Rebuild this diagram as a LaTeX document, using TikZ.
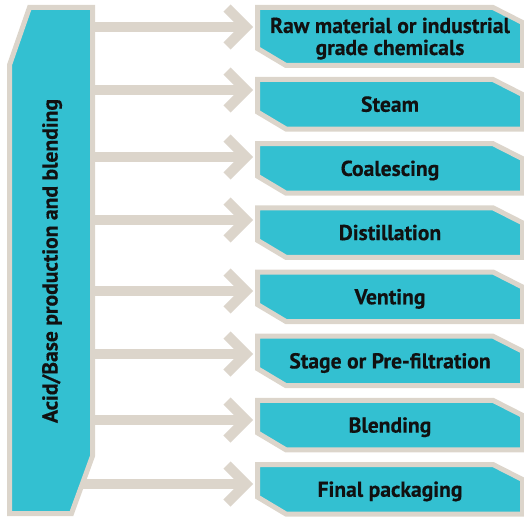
\documentclass[tikz,border=0pt]{standalone}
\usepackage{fontspec}
\setmainfont{PT Sans}[BoldFeatures={FakeBold=0.4}]
\usetikzlibrary{calc}
\definecolor{cyanfill}{RGB}{51,192,209}
\definecolor{beige}{RGB}{220,213,203}
\definecolor{ink}{RGB}{17,17,17}
\begin{document}
\begin{tikzpicture}[x=1pt,y=-1pt,
  boxshape/.style={fill=cyanfill,draw=beige,line width=5pt,line join=miter},
  shaft/.style={draw=beige,line width=10pt},
  chev/.style={draw=beige,line width=10pt,line join=miter,miter limit=4},
  lbl/.style={text=ink,font=\bfseries\fontsize{21.6}{22}\selectfont,align=center,inner sep=0pt}]
\useasboundingbox (0,0) rectangle (524,516);
% arrows
\foreach \i/\sx/\y in {1/92.5/27,2/92.5/90,3/92.5/157,4/92.5/220,5/92.5/291,6/92.5/354,7/92.5/420,8/82.3/484}{
  \coordinate (s\i) at (\sx,\y);
  \coordinate (t\i) at (246,\y);
  \draw[shaft] (s\i) -- (t\i);
  \draw[chev] ($(t\i)+(-19,-19)$) -- (t\i) -- ($(t\i)+(-19,19)$);
}
% left box
\draw[boxshape] (29.5,7.5) -- (92.5,7.5) -- (92.5,456) -- (71.5,513.5) -- (9.5,513.5) -- (9.5,65) -- cycle;
\node[lbl,rotate=90,anchor=base] (src) at (57.5,261) {Acid/Base production and blending};
% right boxes
\foreach \i/\t/\b in {1/7.5/65.5,2/79.5/129,3/143.67/193.17,4/207.84/257.34,5/272.01/321.51,6/336.18/385.68,7/400.35/449.85,8/464.52/514.02}{
  \draw[boxshape] (257.5,\t) -- (493,\t) -- (522.5,\t+15) -- (522.5,\b) -- (286,\b) -- (257.5,\b-17) -- cycle;
  \coordinate (c\i) at (390,{(\t+\b)/2+7.5});
}
\node[lbl,anchor=base] (n1a) at (390,33) {Raw material or industrial};
\node[lbl,anchor=base] (n1b) at (390,55) {grade chemicals};
\node[lbl,anchor=base] (n2) at (c2) {Steam};
\node[lbl,anchor=base] (n3) at (c3) {Coalescing};
\node[lbl,anchor=base] (n4) at (c4) {Distillation};
\node[lbl,anchor=base] (n5) at (c5) {Venting};
\node[lbl,anchor=base] (n6) at (c6) {Stage or Pre-filtration};
\node[lbl,anchor=base] (n7) at (c7) {Blending};
\node[lbl,anchor=base] (n8) at (c8) {Final packaging};
\end{tikzpicture}
\end{document}
